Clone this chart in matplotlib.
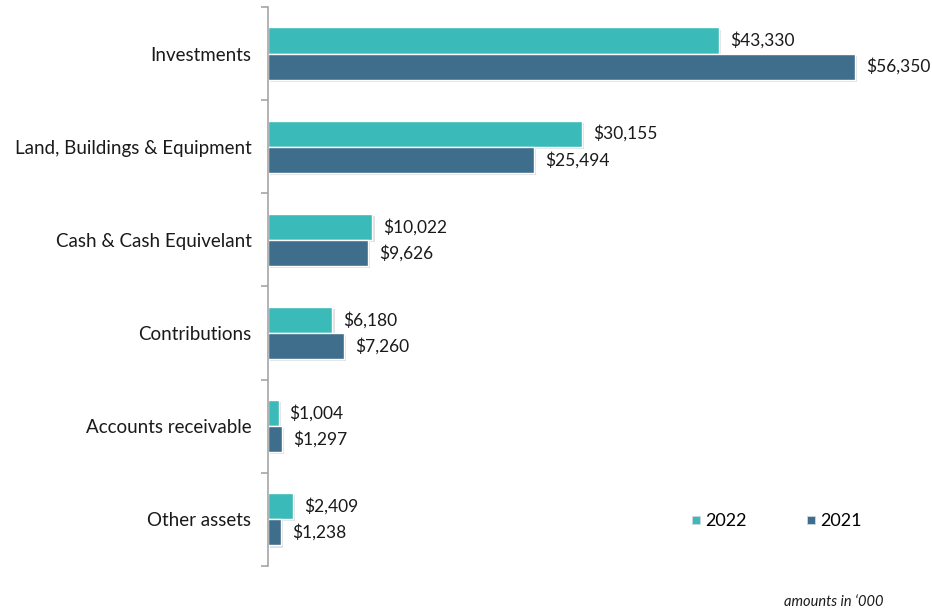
import matplotlib
matplotlib.use('Agg')
from matplotlib import pyplot as plt
from matplotlib import patheffects as pe
from matplotlib.lines import Line2D
import numpy as np

categories = ['Investments', 'Land, Buildings & Equipment', 'Cash & Cash Equivelant',
              'Contributions', 'Accounts receivable', 'Other assets']
values_2022 = [43330, 30155, 10022, 6180, 1004, 2409]
values_2021 = [56350, 25494, 9626, 7260, 1297, 1238]
series_names = ['2022', '2021']
colors = ['#3ABAB8', '#3F6E8C']

plt.rcParams['font.family'] = ['Lato', 'DejaVu Sans']

fig = plt.figure(figsize=(9.32, 6.13), dpi=100)
ax = fig.add_axes([0.2876, 0.0767, 0.6706, 0.912])

y = np.arange(len(categories))
h = 0.28
shadow = [pe.SimplePatchShadow(offset=(1.5, -1.5), shadow_rgbFace='#000000', alpha=0.12), pe.Normal()]

for vals, off, col in [(values_2022, -h / 2, colors[0]), (values_2021, h / 2, colors[1])]:
    bars = ax.barh(y + off, vals, height=h, color=col, edgecolor='white', linewidth=1.0)
    for b, v in zip(bars, vals):
        b.set_path_effects(shadow)
        ax.annotate('${:,}'.format(v), (v, b.get_y() + b.get_height() / 2),
                    xytext=(8, 0), textcoords='offset points',
                    va='center', ha='left', fontsize=12.5, color='#1a1a1a')

ax.set_xlim(0, 60000)
ax.set_ylim(len(categories) - 0.5, -0.5)

for s in ['top', 'right', 'bottom']:
    ax.spines[s].set_visible(False)
ax.spines['left'].set_color('#A6A6A6')
ax.spines['left'].set_linewidth(1.2)
ax.set_xticks([])

ax.set_yticks(y)
ax.set_yticklabels(categories, fontsize=13.5, color='#1a1a1a')
ax.tick_params(axis='y', which='major', length=0, pad=12)
ax.set_yticks(np.arange(-0.5, len(categories)), minor=True)
ax.tick_params(axis='y', which='minor', length=5, color='#A6A6A6', width=1.2)

handles = [Line2D([], [], marker='s', linestyle='none', markersize=6,
                  markerfacecolor=c, markeredgecolor='#cfd8dc', markeredgewidth=0.6)
           for c in colors]
ax.legend(handles, series_names, loc='center left', bbox_to_anchor=(0.65, 0.08),
          ncol=2, frameon=False, fontsize=13, handletextpad=0.2,
          columnspacing=3.3, handlelength=0.6)

fig.text(0.948, 0.006, 'amounts in \u2018000', ha='right', va='bottom',
         fontsize=10.5, style='italic', color='#1a1a1a')

fig.savefig('out.png', dpi=100)
